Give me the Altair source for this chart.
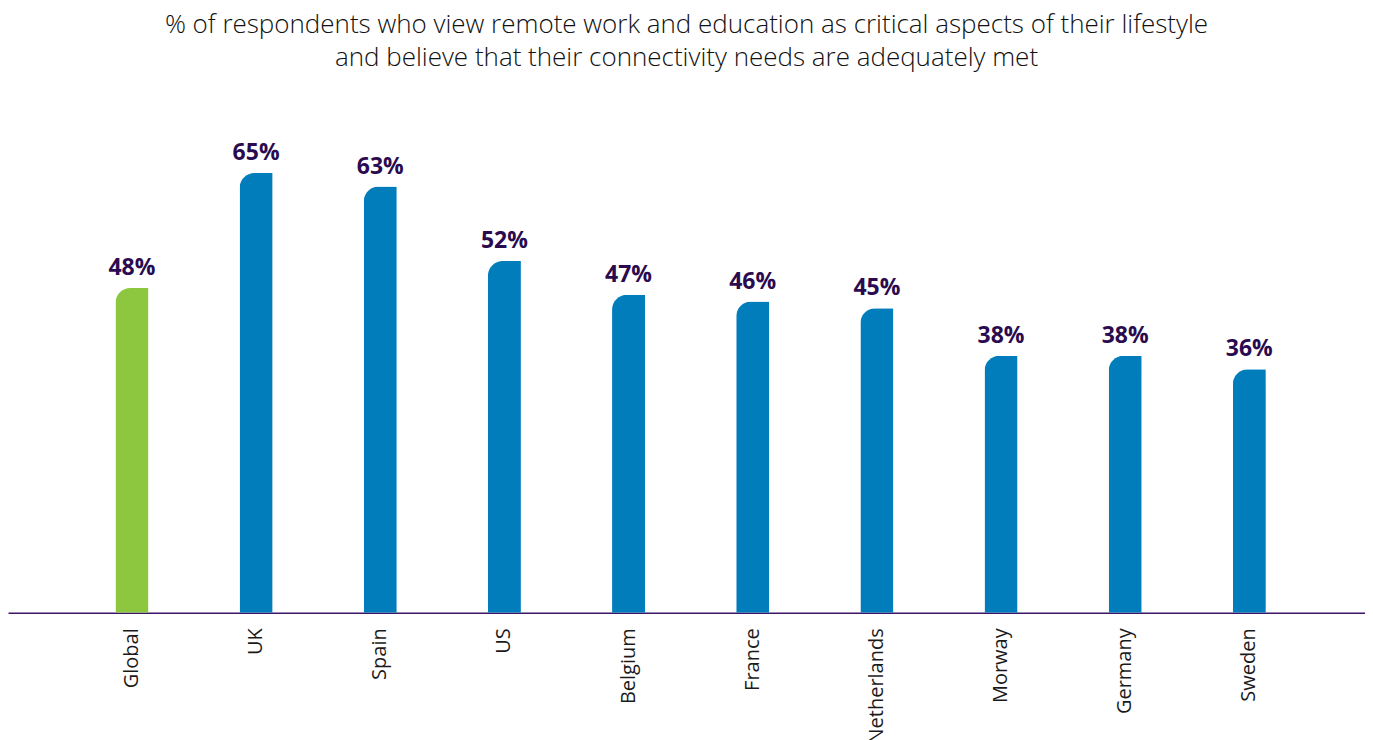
import altair as alt
import pandas as pd

categories = ["Global", "UK", "Spain", "US", "Belgium", "France", "Netherlands", "Morway", "Germany", "Sweden"]
values = [48, 65, 63, 52, 47, 46, 45, 38, 38, 36]
labels = ["48%", "65%", "63%", "52%", "47%", "46%", "45%", "38%", "38%", "36%"]

title_lines = [
    "% of respondents who view remote work and education as critical aspects of their lifestyle",
    "and believe that their connectivity needs are adequately met",
]

df = pd.DataFrame({"country": categories, "value": values, "label": labels})

x = alt.X(
    "country:N",
    sort=categories,
    title=None,
    scale=alt.Scale(paddingInner=0.734, paddingOuter=0.832, align=0.52),
    axis=alt.Axis(
        labelAngle=270,
        labelFont="Open Sans",
        labelFontSize=20,
        labelColor="#1a1a1a",
        labelPadding=15,
        ticks=False,
        domainColor="#3d1466",
        domainWidth=1.5,
        grid=False,
    ),
)
y = alt.Y("value:Q", scale=alt.Scale(domain=[0, 70]), axis=None)

bars = alt.Chart(df).mark_bar(cornerRadiusTopLeft=15).encode(
    x=x,
    y=y,
    color=alt.condition(
        alt.datum.country == "Global", alt.value("#8dc63f"), alt.value("#007dba")
    ),
)

text = alt.Chart(df).mark_text(
    font="Open Sans",
    fontSize=23,
    fontWeight="bold",
    color="#2b0b4f",
    baseline="alphabetic",
    dy=-13,
).encode(x=x, y=y, text="label:N")

chart = (
    alt.layer(bars, text)
    .properties(
        width=1358,
        height=474,
        padding={"left": 0, "right": 0, "top": 4, "bottom": 0},
        title=alt.TitleParams(
            text=title_lines,
            font="Open Sans",
            fontSize=26,
            fontWeight=300,
            color="#111111",
            anchor="middle",
            lineHeight=33,
            offset=68,
        ),
    )
    .configure_view(stroke=None)
)

chart.save("out.html", embed_options={"renderer": "svg", "actions": False})
